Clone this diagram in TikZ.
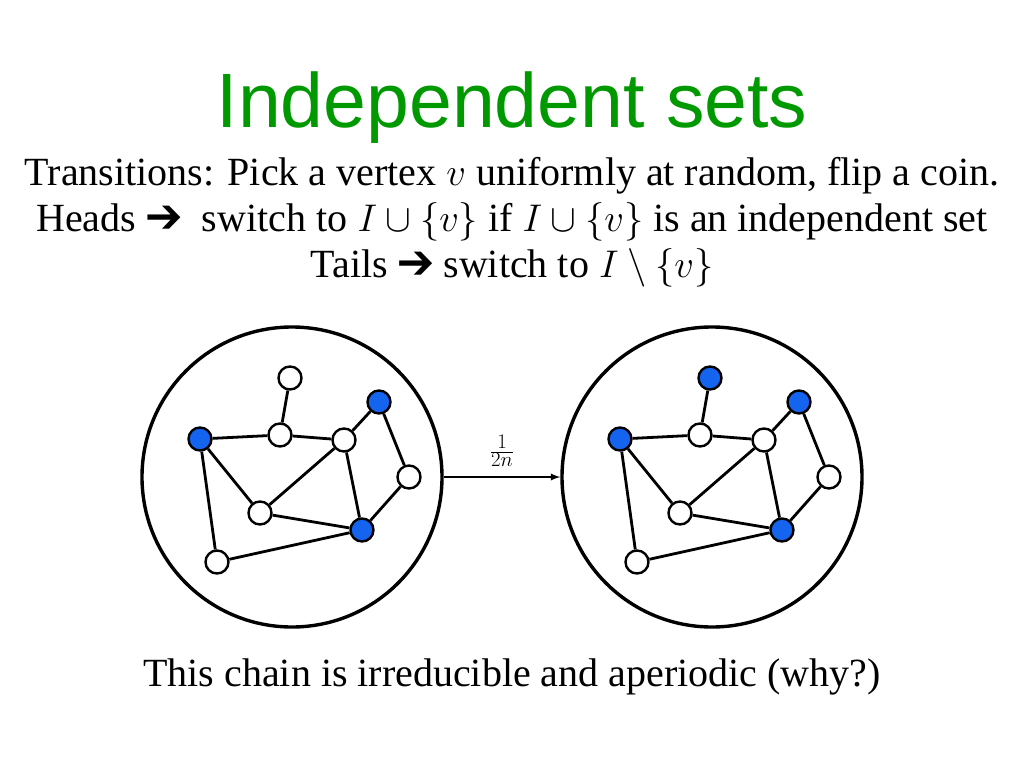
\documentclass[tikz,border=0pt]{standalone}
\usepackage{fontspec}
\setmainfont{Liberation Serif}
\newfontfamily\titlefont{Liberation Sans}
\usepackage{pifont}
\newcommand{\mymath}[1]{{\fontsize{24.88}{26}\selectfont\scalebox{1.55}{$#1$}}}
\begin{document}
\begin{tikzpicture}[x=1pt,y=-1pt,
  vw/.style={circle,draw,line width=2.4pt,fill=white,minimum size=23pt,inner sep=0pt},
  ed/.style={line width=2.8pt},
  big/.style={circle,draw,line width=3.4pt,minimum size=300pt,inner sep=0pt},
  txt/.style={font=\fontsize{40}{44}\selectfont,inner sep=0pt}]
\useasboundingbox (0,0) rectangle (1024,768);
\definecolor{vblue}{RGB}{20,100,240}
\tikzset{vb/.style={vw,fill=vblue}}
\node[font=\titlefont\fontsize{77}{80}\selectfont,text=green!60!black,inner sep=0pt] (t) at (512,108) {Independent sets};
\node[txt] (l1) at (512,176) {Transitions: Pick a vertex \mymath{v} uniformly at random, flip a coin.};
\node[txt] (l2) at (512,222) {Heads \ding{212}\ \ switch to \mymath{I\cup\{v\}} if \mymath{I\cup\{v\}} is an independent set};
\node[txt] (l3) at (512,268) {Tails \ding{212} switch to \mymath{I\setminus\{v\}}};
\node[txt] (bt) at (512,677) {This chain is irreducible and aperiodic (why?)};
\node[big] (L) at (292,477) {};
\node[big] (R) at (712,477) {};
\node[vw] (la) at (290,378) {};
\node[vb] (lb) at (379,402) {};
\node[vb] (lc) at (200,439) {};
\node[vw] (ld) at (280,435) {};
\node[vw] (le) at (344,440) {};
\node[vw] (lf) at (409,477) {};
\node[vw] (lg) at (260,513) {};
\node[vb] (lh) at (362,530) {};
\node[vw] (li) at (217,562) {};
\node[vb] (ra) at (710,378) {};
\node[vb] (rb) at (799,402) {};
\node[vb] (rc) at (620,439) {};
\node[vw] (rd) at (700,435) {};
\node[vw] (re) at (764,440) {};
\node[vw] (rf) at (829,477) {};
\node[vw] (rg) at (680,513) {};
\node[vb] (rh) at (782,530) {};
\node[vw] (ri) at (637,562) {};
\foreach \s in {l,r}{
  \foreach \u/\v in {a/d,c/d,d/e,e/b,b/f,f/h,e/h,e/g,g/h,c/g,c/i,i/h}
    \draw[ed] (\s\u) -- (\s\v);
}
\draw[line width=2.2pt,-{latex}] (L) -- (R) node[midway,above=6pt,font=\fontsize{24.88}{26}\selectfont] {$\frac{1}{2n}$};
\end{tikzpicture}
\end{document}
